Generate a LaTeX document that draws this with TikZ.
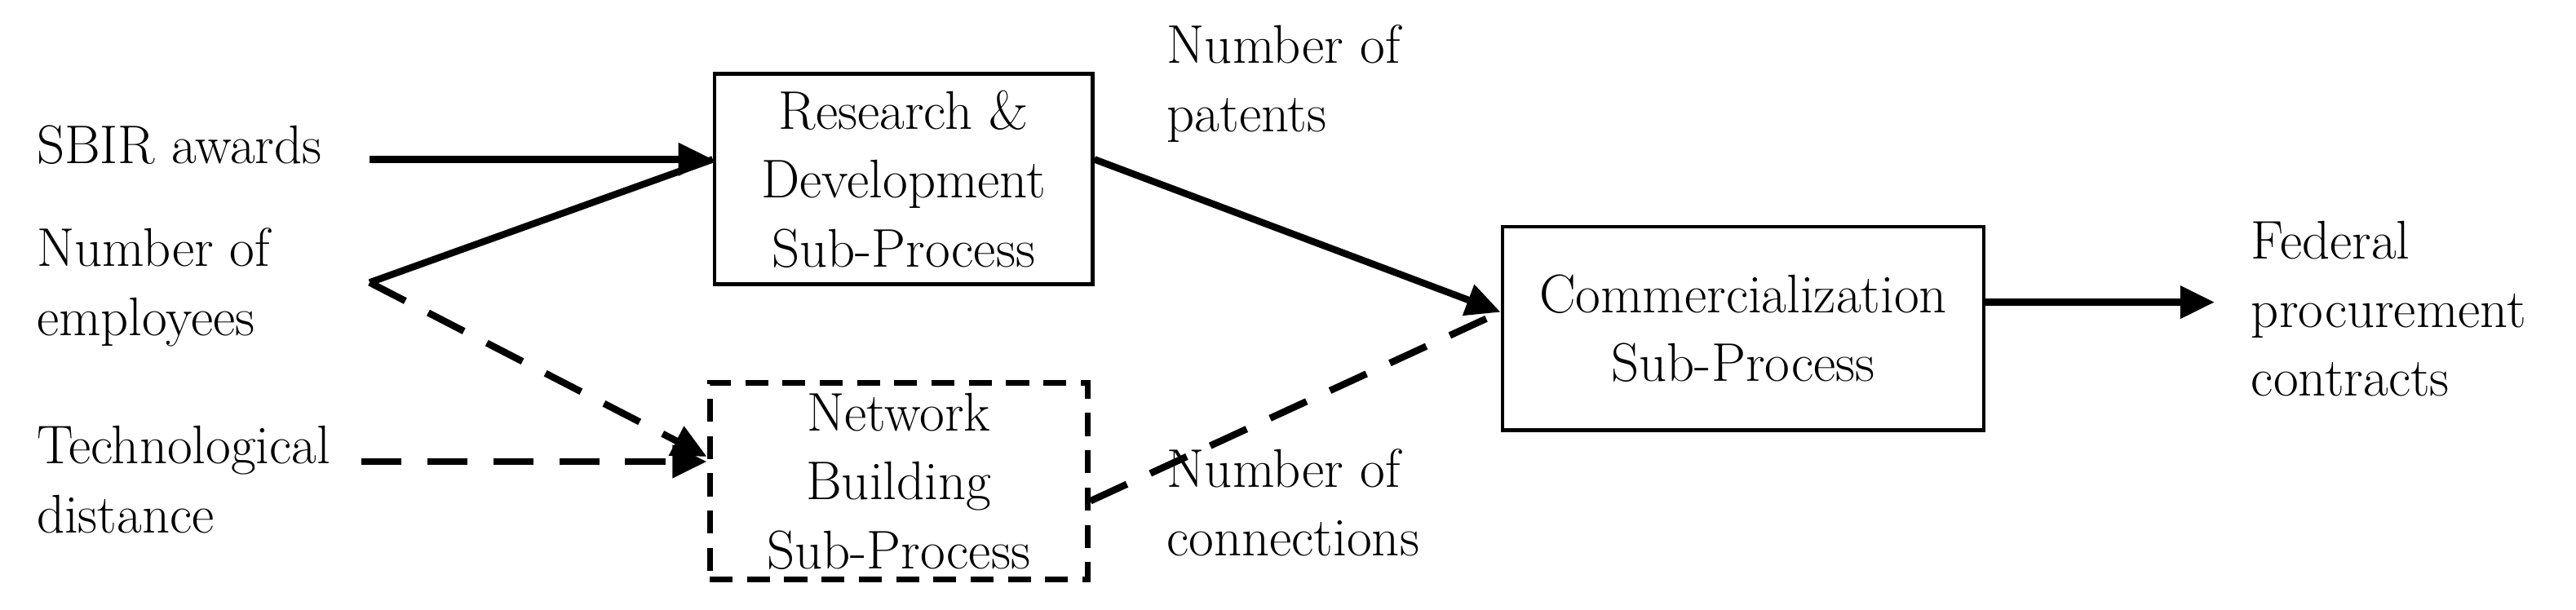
\documentclass[tikz,border=0pt]{standalone}
\usetikzlibrary{arrows.meta}
\begin{document}
\begin{tikzpicture}[x=0.02014cm,y=-0.02014cm,
  txt/.style={font=\fontsize{19}{24}\selectfont,align=left,inner sep=0},
  box/.style={draw,line width=1.3pt,align=center,font=\fontsize{19}{24}\selectfont,inner sep=0},
  arr/.style={line width=2.4pt,-{Triangle[length=12pt,width=11pt]}},
  ln/.style={line width=2.4pt},
  dsh/.style={dash pattern=on 14pt off 9pt},
  bdsh/.style={line width=2pt,dash pattern=on 8pt off 5pt}]
\useasboundingbox (0,0) rectangle (1568,371);
\node[box,minimum width=230*0.02014cm,minimum height=128*0.02014cm] (rd) at (550,109) {Research \&\\Development\\Sub-Process};
\node[box,bdsh,minimum width=230*0.02014cm,minimum height=120*0.02014cm] (nb) at (547,293) {Network\\Building\\Sub-Process};
\node[box,minimum width=293*0.02014cm,minimum height=124*0.02014cm] (cm) at (1061,200) {Commercialization\\Sub-Process};
\node[txt,anchor=west] (sbir) at (22,88) {SBIR awards};
\node[txt,anchor=west] (emp) at (22,175) {Number of\\employees};
\node[txt,anchor=west] (tech) at (22,292) {Technological\\distance};
\node[txt,anchor=west] (pat) at (710,51) {Number of\\patents};
\node[txt,anchor=west] (con) at (710,306) {Number of\\connections};
\node[txt,anchor=west] (fed) at (1370,188) {Federal\\procurement\\contracts};
\coordinate (s0) at (225,97);
\coordinate (e0) at (225,172);
\coordinate (t0) at (220,281);
\coordinate (f1) at (1348,184);
\draw[arr] (s0) -- (rd.west |- s0);
\draw[ln] (e0) -- (rd.west |- s0);
\draw[arr,dsh] (e0) -- (nb.west |- 0,278);
\draw[arr,dsh] (t0) -- (nb.west |- t0);
\draw[arr] (rd.east |- 0,97) -- (cm.west |- 0,190);
\draw[ln,dsh] (nb.east |- 0,305) -- (cm.west |- 0,190);
\draw[arr] (cm.east |- f1) -- (f1);
\end{tikzpicture}
\end{document}
